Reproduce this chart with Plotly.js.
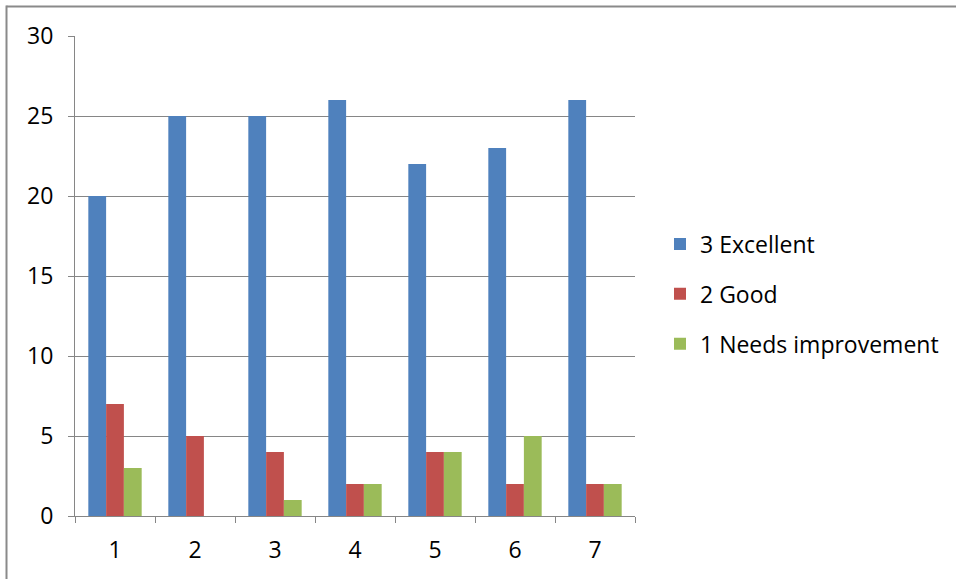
<!DOCTYPE html>
<html>
<head>
<meta charset="utf-8">
<script src="https://cdn.plot.ly/plotly-3.0.1.min.js"></script>
<style>html,body{margin:0;padding:0;background:#fff;overflow:hidden;}#chart{width:956px;height:579px;}</style>
</head>
<body>
<div id="chart"></div>
<script>
const categories = ["1", "2", "3", "4", "5", "6", "7"];
const seriesNames = ["3 Excellent", "2 Good", "1 Needs improvement"];
const excellent = [20, 25, 25, 26, 22, 23, 26];
const good = [7, 5, 4, 2, 4, 2, 2];
const needsImprovement = [3, 0, 1, 2, 4, 5, 2];
const colors = ["#4F81BD", "#C0504D", "#9BBB59"];
const yTicks = [0, 5, 10, 15, 20, 25, 30];

const seriesValues = [excellent, good, needsImprovement];
const traces = seriesValues.map((vals, i) => ({
  type: "bar",
  name: seriesNames[i],
  x: categories,
  y: vals,
  marker: {color: colors[i], line: {width: 0}},
  legendgroup: "g" + i,
  hoverinfo: "x+y+name"
}));

const fontFam = "'Open Sans', 'Noto Sans', sans-serif";
const fs = 23;
const layout = {
  width: 956, height: 579,
  margin: {l: 75, r: 321, t: 36, b: 63, pad: 0},
  paper_bgcolor: "#fff", plot_bgcolor: "#fff",
  font: {family: fontFam, size: fs, color: "#000"},
  barmode: "group",
  bargap: 0.333,
  bargroupgap: 0,
  showlegend: true,
  legend: {
    x: (660 - 75) / 560, xanchor: "left",
    y: (516 - 294) / 480, yanchor: "middle",
    traceorder: "grouped",
    tracegroupgap: 17,
    font: {family: fontFam, size: fs, color: "#000"},
    itemwidth: 30,
    bgcolor: "rgba(0,0,0,0)"
  },
  xaxis: {
    type: "category",
    showline: true, linecolor: "#868686", linewidth: 1,
    ticks: "outside", ticklen: 6, tickcolor: "#868686",
    tickson: "boundaries",
    showgrid: false,
    ticklabelstandoff: 13,
    tickfont: {family: fontFam, size: fs, color: "#000"},
    fixedrange: true
  },
  yaxis: {
    range: [0, 30],
    tickvals: yTicks,
    ticktext: yTicks.map(String),
    showline: true, linecolor: "#868686", linewidth: 1,
    ticks: "outside", ticklen: 6, tickcolor: "#868686",
    showgrid: true, gridcolor: "#868686", gridwidth: 1,
    zeroline: false,
    ticklabelstandoff: 10,
    tickfont: {family: fontFam, size: fs, color: "#000"},
    fixedrange: true
  },
  shapes: [
    {type: "line", xref: "paper", yref: "paper",
     x0: (6.5 - 75) / 560, x1: (970 - 75) / 560,
     y0: (516 - 6.5) / 480, y1: (516 - 6.5) / 480,
     line: {color: "#8a8a8a", width: 2}, layer: "below"},
    {type: "line", xref: "paper", yref: "paper",
     x0: (6.5 - 75) / 560, x1: (6.5 - 75) / 560,
     y0: (516 - 5.5) / 480, y1: (516 - 600) / 480,
     line: {color: "#8a8a8a", width: 2}, layer: "below"}
  ]
};

Plotly.newPlot("chart", traces, layout, {displayModeBar: false, staticPlot: true});
</script>
</body>
</html>
